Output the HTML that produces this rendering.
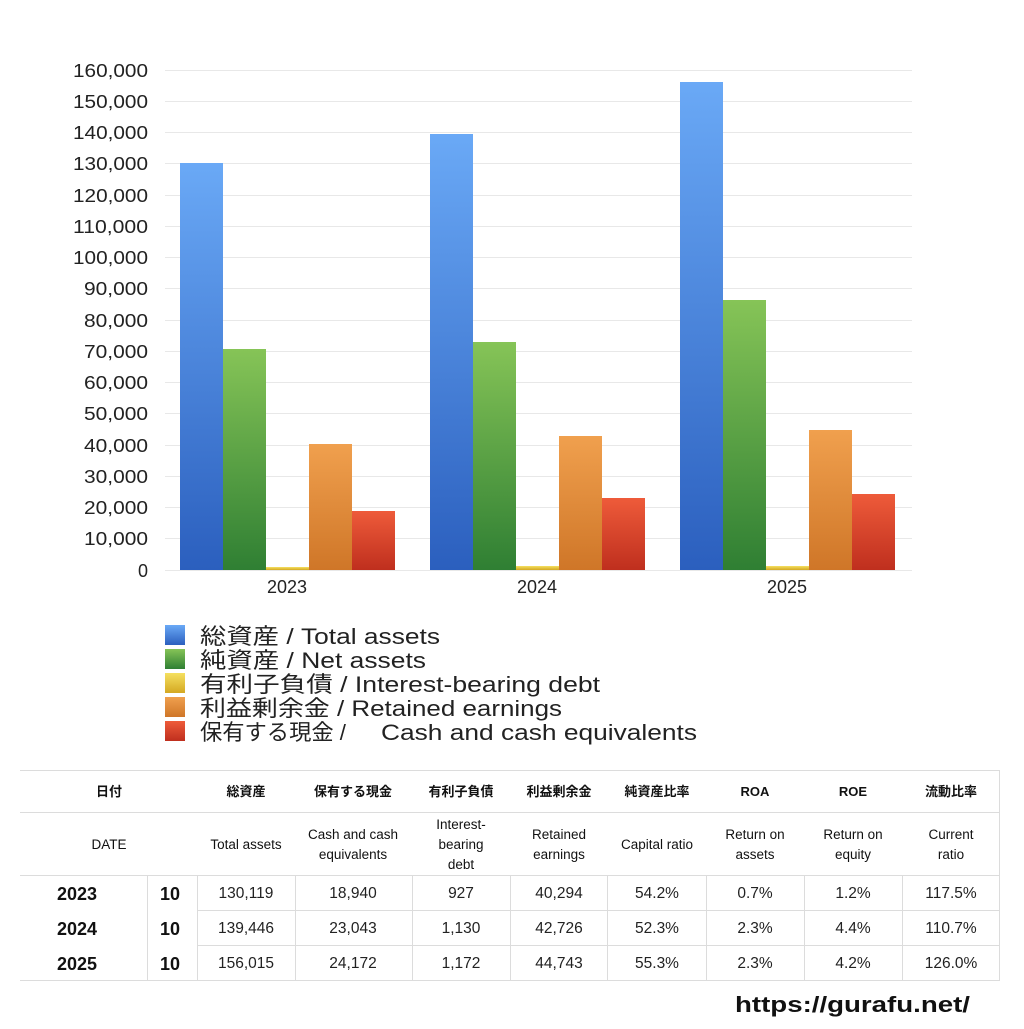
<!DOCTYPE html>
<html><head><meta charset="utf-8"><style>
body{margin:0;background:#fff;width:1024px;height:1024px;overflow:hidden}
svg text{font-family:"Liberation Sans","Noto Sans CJK JP",sans-serif}
</style></head><body>
<svg width="1024" height="1024" viewBox="0 0 1024 1024" xmlns="http://www.w3.org/2000/svg">
<defs>
<linearGradient id="gb" x1="0" y1="0" x2="0" y2="1"><stop offset="0" stop-color="#6aa9f6"/><stop offset="1" stop-color="#2b5fbe"/></linearGradient>
<linearGradient id="gg" x1="0" y1="0" x2="0" y2="1"><stop offset="0" stop-color="#86c457"/><stop offset="1" stop-color="#2f7f33"/></linearGradient>
<linearGradient id="gy" x1="0" y1="0" x2="0" y2="1"><stop offset="0" stop-color="#f5e060"/><stop offset="1" stop-color="#d4a822"/></linearGradient>
<linearGradient id="go" x1="0" y1="0" x2="0" y2="1"><stop offset="0" stop-color="#f0a04e"/><stop offset="1" stop-color="#cf7628"/></linearGradient>
<linearGradient id="gr" x1="0" y1="0" x2="0" y2="1"><stop offset="0" stop-color="#ee5b3a"/><stop offset="1" stop-color="#bf2f1e"/></linearGradient>
</defs>
<g stroke="#e8e8e8" stroke-width="1">
<line x1="165" x2="912" y1="70.5" y2="70.5"/><line x1="165" x2="912" y1="101.5" y2="101.5"/><line x1="165" x2="912" y1="132.5" y2="132.5"/><line x1="165" x2="912" y1="163.5" y2="163.5"/><line x1="165" x2="912" y1="195.5" y2="195.5"/><line x1="165" x2="912" y1="226.5" y2="226.5"/><line x1="165" x2="912" y1="257.5" y2="257.5"/><line x1="165" x2="912" y1="288.5" y2="288.5"/><line x1="165" x2="912" y1="320.5" y2="320.5"/><line x1="165" x2="912" y1="351.5" y2="351.5"/><line x1="165" x2="912" y1="382.5" y2="382.5"/><line x1="165" x2="912" y1="413.5" y2="413.5"/><line x1="165" x2="912" y1="445.5" y2="445.5"/><line x1="165" x2="912" y1="476.5" y2="476.5"/><line x1="165" x2="912" y1="507.5" y2="507.5"/><line x1="165" x2="912" y1="538.5" y2="538.5"/><line x1="165" x2="912" y1="570.5" y2="570.5"/>
</g>
<g font-size="18" fill="#222" text-anchor="end" lengthAdjust="spacingAndGlyphs">
<text x="148" y="77" textLength="75" lengthAdjust="spacingAndGlyphs">160,000</text><text x="148" y="108" textLength="75" lengthAdjust="spacingAndGlyphs">150,000</text><text x="148" y="139" textLength="75" lengthAdjust="spacingAndGlyphs">140,000</text><text x="148" y="170" textLength="75" lengthAdjust="spacingAndGlyphs">130,000</text><text x="148" y="202" textLength="75" lengthAdjust="spacingAndGlyphs">120,000</text><text x="148" y="233" textLength="75" lengthAdjust="spacingAndGlyphs">110,000</text><text x="148" y="264" textLength="75" lengthAdjust="spacingAndGlyphs">100,000</text><text x="148" y="295" textLength="64" lengthAdjust="spacingAndGlyphs">90,000</text><text x="148" y="327" textLength="64" lengthAdjust="spacingAndGlyphs">80,000</text><text x="148" y="358" textLength="64" lengthAdjust="spacingAndGlyphs">70,000</text><text x="148" y="389" textLength="64" lengthAdjust="spacingAndGlyphs">60,000</text><text x="148" y="420" textLength="64" lengthAdjust="spacingAndGlyphs">50,000</text><text x="148" y="452" textLength="64" lengthAdjust="spacingAndGlyphs">40,000</text><text x="148" y="483" textLength="64" lengthAdjust="spacingAndGlyphs">30,000</text><text x="148" y="514" textLength="64" lengthAdjust="spacingAndGlyphs">20,000</text><text x="148" y="545" textLength="64" lengthAdjust="spacingAndGlyphs">10,000</text><text x="148" y="577">0</text>
</g>
<g>
<rect x="180" y="163" width="43" height="407" fill="url(#gb)"/><rect x="223" y="349" width="43" height="221" fill="url(#gg)"/><rect x="266" y="567" width="43" height="3" fill="url(#gy)"/><rect x="309" y="444" width="43" height="126" fill="url(#go)"/><rect x="352" y="511" width="43" height="59" fill="url(#gr)"/>
<rect x="430" y="134" width="43" height="436" fill="url(#gb)"/><rect x="473" y="342" width="43" height="228" fill="url(#gg)"/><rect x="516" y="566" width="43" height="4" fill="url(#gy)"/><rect x="559" y="436" width="43" height="134" fill="url(#go)"/><rect x="602" y="498" width="43" height="72" fill="url(#gr)"/>
<rect x="680" y="82" width="43" height="488" fill="url(#gb)"/><rect x="723" y="300" width="43" height="270" fill="url(#gg)"/><rect x="766" y="566" width="43" height="4" fill="url(#gy)"/><rect x="809" y="430" width="43" height="140" fill="url(#go)"/><rect x="852" y="494" width="43" height="76" fill="url(#gr)"/>
</g>
<g font-size="18" fill="#222" text-anchor="middle">
<text x="287" y="593">2023</text><text x="537" y="593">2024</text><text x="787" y="593">2025</text>
</g>
<g font-size="22" fill="#222">
<rect x="165" y="625" width="20" height="20" fill="url(#gb)"/><text x="200" y="644" textLength="240" lengthAdjust="spacingAndGlyphs">総資産 / Total assets</text>
<rect x="165" y="649" width="20" height="20" fill="url(#gg)"/><text x="200" y="668" textLength="226" lengthAdjust="spacingAndGlyphs">純資産 / Net assets</text>
<rect x="165" y="673" width="20" height="20" fill="url(#gy)"/><text x="200" y="692" textLength="400" lengthAdjust="spacingAndGlyphs">有利子負債 / Interest-bearing debt</text>
<rect x="165" y="697" width="20" height="20" fill="url(#go)"/><text x="200" y="716" textLength="362" lengthAdjust="spacingAndGlyphs">利益剰余金 / Retained earnings</text>
<rect x="165" y="721" width="20" height="20" fill="url(#gr)"/><text x="200" y="740" textLength="146" lengthAdjust="spacingAndGlyphs">保有する現金 /</text><text x="381" y="740" textLength="316" lengthAdjust="spacingAndGlyphs">Cash and cash equivalents</text>
</g>
<g stroke="#dcdcdc" stroke-width="1" fill="none">
<line x1="20" x2="1000" y1="770.5" y2="770.5"/><line x1="20" x2="1000" y1="812.5" y2="812.5"/><line x1="20" x2="1000" y1="875.5" y2="875.5"/>
<line x1="197" x2="1000" y1="910.5" y2="910.5"/><line x1="197" x2="1000" y1="945.5" y2="945.5"/><line x1="20" x2="1000" y1="980.5" y2="980.5"/>
<line x1="999.5" x2="999.5" y1="770" y2="980"/>
<line x1="147.5" x2="147.5" y1="875" y2="980"/><line x1="197.5" x2="197.5" y1="875" y2="980"/><line x1="295.5" x2="295.5" y1="875" y2="980"/><line x1="412.5" x2="412.5" y1="875" y2="980"/><line x1="510.5" x2="510.5" y1="875" y2="980"/><line x1="607.5" x2="607.5" y1="875" y2="980"/><line x1="706.5" x2="706.5" y1="875" y2="980"/><line x1="804.5" x2="804.5" y1="875" y2="980"/><line x1="902.5" x2="902.5" y1="875" y2="980"/>
</g>
<g font-size="13" fill="#111" text-anchor="middle" font-weight="bold">
<text x="109" y="796">日付</text><text x="246" y="796">総資産</text><text x="353" y="796">保有する現金</text><text x="461" y="796">有利子負債</text><text x="559" y="796">利益剰余金</text><text x="657" y="796">純資産比率</text><text x="755" y="796">ROA</text><text x="853" y="796">ROE</text><text x="951" y="796">流動比率</text>
</g>
<g font-size="13.5" fill="#111" text-anchor="middle">
<text x="109" y="849">DATE</text><text x="246" y="849">Total assets</text>
<text x="353" y="839">Cash and cash</text><text x="353" y="859">equivalents</text>
<text x="461" y="829">Interest-</text><text x="461" y="849">bearing</text><text x="461" y="869">debt</text>
<text x="559" y="839">Retained</text><text x="559" y="859">earnings</text>
<text x="657" y="849">Capital ratio</text>
<text x="755" y="839">Return on</text><text x="755" y="859">assets</text>
<text x="853" y="839">Return on</text><text x="853" y="859">equity</text>
<text x="951" y="839">Current</text><text x="951" y="859">ratio</text>
</g>
<g font-size="18" font-weight="bold" fill="#111">
<text x="57" y="900">2023</text><text x="57" y="935">2024</text><text x="57" y="970">2025</text>
<text x="160" y="900">10</text><text x="160" y="935">10</text><text x="160" y="970">10</text>
</g>
<g font-size="15.5" fill="#222" text-anchor="middle">
<text x="246" y="898">130,119</text><text x="353" y="898">18,940</text><text x="461" y="898">927</text><text x="559" y="898">40,294</text><text x="657" y="898">54.2%</text><text x="755" y="898">0.7%</text><text x="853" y="898">1.2%</text><text x="951" y="898">117.5%</text>
<text x="246" y="933">139,446</text><text x="353" y="933">23,043</text><text x="461" y="933">1,130</text><text x="559" y="933">42,726</text><text x="657" y="933">52.3%</text><text x="755" y="933">2.3%</text><text x="853" y="933">4.4%</text><text x="951" y="933">110.7%</text>
<text x="246" y="968">156,015</text><text x="353" y="968">24,172</text><text x="461" y="968">1,172</text><text x="559" y="968">44,743</text><text x="657" y="968">55.3%</text><text x="755" y="968">2.3%</text><text x="853" y="968">4.2%</text><text x="951" y="968">126.0%</text>
</g>
<text x="735" y="1012" font-size="22" font-weight="bold" fill="#111" textLength="235" lengthAdjust="spacingAndGlyphs">https://gurafu.net/</text>
</svg>
</body></html>
